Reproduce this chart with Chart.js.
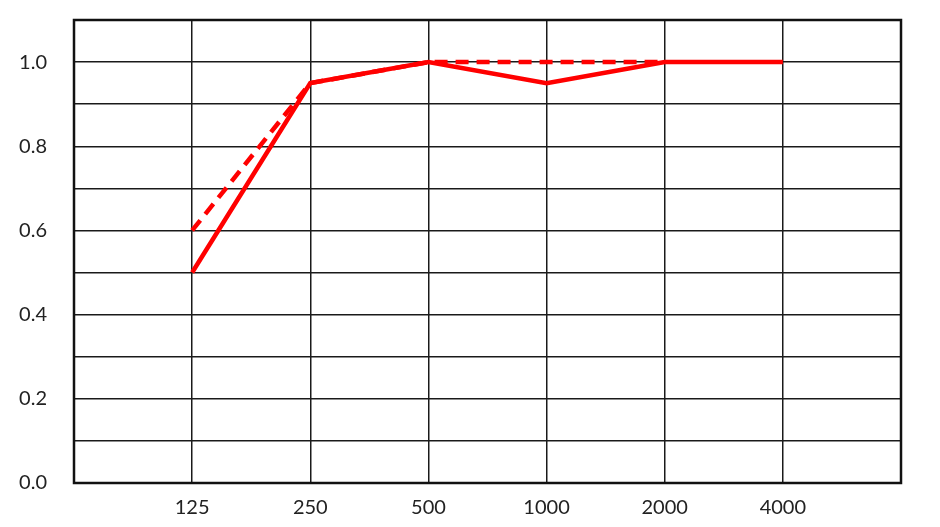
<!DOCTYPE html>
<html>
<head>
<meta charset="utf-8">
<script src="https://cdn.jsdelivr.net/npm/chart.js@4/dist/chart.umd.min.js"></script>
<style>
  html, body { margin: 0; padding: 0; background: #fff; }
  #wrap { width: 940px; height: 527px; }
</style>
</head>
<body>
<div id="wrap"><canvas id="chartLine"></canvas></div>
<script>
// frequencies (Hz), blank slots at both ends
var freqs = ['', '125', '250', '500', '1000', '2000', '4000', ''];
var solidValues = [null, 0.5, 0.95, 1.0, 0.95, 1.0, 1.0, null];
var dashedValues = [null, 0.6, 0.95, 1.0, 1.0, 1.0, null, null];
var yTickLabels = ['0.0', '0.2', '0.4', '0.6', '0.8', '1.0'];

// thick frame round the plot
var frame = {
    id: 'frame',
    afterDraw: function(chart){
        var a = chart.chartArea, ctx = chart.ctx;
        ctx.save();
        ctx.strokeStyle = '#111';
        ctx.lineWidth = 2.5;
        ctx.strokeRect(a.left, a.top, a.right - a.left, a.bottom - a.top);
        ctx.restore();
    }
};

var lineChart = function lineChart(){
    var ctx = document.getElementById('chartLine').getContext('2d');
    return new Chart(ctx, {
        type: 'line',
        data: {
            labels: freqs,
            datasets: [{
                data: solidValues,
                borderColor: '#ff0000',
                borderWidth: 4.5,
                pointRadius: 0,
                tension: 0,
                fill: false,
            }, {
                data: dashedValues,
                borderColor: '#ff0000',
                borderWidth: 4.5,
                borderDash: [13, 8],
                pointRadius: 0,
                tension: 0,
                fill: false,
            }]
        },
        options: {
            responsive: true,
            maintainAspectRatio: false,
            animation: false,
            layout: { padding: { top: 20, right: 39, left: 0, bottom: 0 } },
            plugins: {
                legend: { display: false },
                tooltip: { enabled: false },
            },
            scales: {
                x: {
                    offset: false,
                    grid: { color: '#1a1a1a', lineWidth: 1.5, drawTicks: false },
                    border: { display: false },
                    ticks: {
                        color: '#222',
                        padding: 13,
                        maxRotation: 0,
                        autoSkip: false,
                        font: { family: 'Lato', size: 20 },
                    },
                    afterFit: function(s){ s.height = 44; s.paddingLeft = 0; s.paddingRight = 0; },
                },
                y: {
                    min: 0,
                    max: 1.1,
                    grid: { color: '#1a1a1a', lineWidth: 1.5, drawTicks: false },
                    border: { display: false },
                    ticks: {
                        stepSize: 0.1,
                        color: '#222',
                        padding: 27,
                        font: { family: 'Lato', size: 20 },
                        callback: function(v){
                            var i = Math.round(v * 10);
                            return i % 2 === 0 ? yTickLabels[i / 2] : '';
                        },
                    },
                    afterFit: function(s){ s.width = 74; s.paddingTop = 0; s.paddingBottom = 0; },
                }
            }
        },
        plugins: [frame],
    });
};

var chart = lineChart();
</script>
</body>
</html>
